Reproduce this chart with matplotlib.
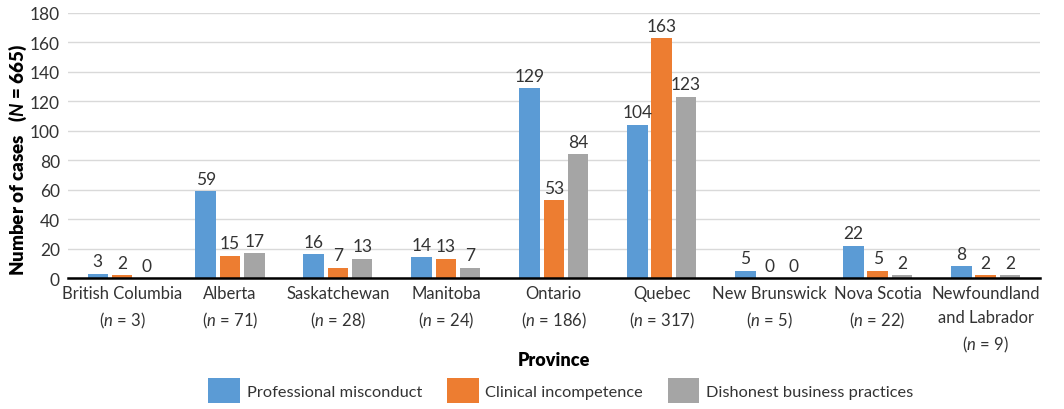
import matplotlib.pyplot as plt
import numpy as np

provinces = ["British Columbia", "Alberta", "Saskatchewan", "Manitoba", "Ontario",
             "Quebec", "New Brunswick", "Nova Scotia", "Newfoundland\nand Labrador"]
totals = [3, 71, 28, 24, 186, 317, 5, 22, 9]
misconduct = [3, 59, 16, 14, 129, 104, 5, 22, 8]
incompetence = [2, 15, 7, 13, 53, 163, 0, 5, 2]
dishonest = [0, 17, 13, 7, 84, 123, 0, 2, 2]
series_names = ["Professional misconduct", "Clinical incompetence", "Dishonest business practices"]
colors = ["#5B9BD5", "#ED7D31", "#A5A5A5"]

plt.rcParams['font.family'] = ['Lato', 'DejaVu Sans']
plt.rcParams['mathtext.fontset'] = 'custom'
plt.rcParams['mathtext.rm'] = 'Lato'
plt.rcParams['mathtext.it'] = 'Lato:italic'
plt.rcParams['mathtext.bfit'] = 'Lato:italic:bold'
txt = '#333333'

fig = plt.figure(figsize=(10.64, 4.10), dpi=100)
ax = fig.add_axes([0.064, 0.3195, 0.913, 0.6465])

x = np.arange(len(provinces))
width = 0.19
step = 0.225
for i, (vals, name, c) in enumerate(zip([misconduct, incompetence, dishonest], series_names, colors)):
    bars = ax.bar(x + (i - 1) * step, vals, width, color=c, label=name, zorder=2)
    for b, v in zip(bars, vals):
        ax.text(b.get_x() + b.get_width() / 2, v + 3, str(v), ha='center', va='bottom',
                fontsize=12.5, color=txt)

labels = [f"{p}\n($\\mathit{{n}}$ = {t})" for p, t in zip(provinces, totals)]
ax.set_xticks(x)
ax.set_xticklabels(labels, fontsize=12, color=txt, linespacing=1.6)
ax.set_xlim(-0.5, len(provinces) - 0.5)
ax.tick_params(axis='x', length=0, pad=5)

ax.set_ylim(0, 180)
ax.set_yticks(range(0, 181, 20))
ax.tick_params(axis='y', length=0, labelsize=12.5, labelcolor=txt, pad=6)
ax.grid(axis='y', color='#D9D9D9', linewidth=1, zorder=0)

for s in ['top', 'right', 'left']:
    ax.spines[s].set_visible(False)
ax.spines['bottom'].set_linewidth(1.8)
ax.spines['bottom'].set_zorder(3)

ax.set_xlabel("Province", fontsize=13, fontweight='heavy', color='black')
ax.xaxis.set_label_coords(0.5, -0.275)
ax.set_ylabel("Number of cases   ($\\mathbfit{N}$ = 665)", fontsize=13.5,
              fontweight='heavy', color='black')
ax.yaxis.set_label_coords(-0.04, 0.45)

fig.legend(loc='center', bbox_to_anchor=(0.527, 0.045), ncol=3, frameon=False,
           fontsize=11.8, handlelength=1.95, handleheight=1.95, columnspacing=1.5,
           handletextpad=0.4, labelcolor=txt)

plt.savefig('out.png', dpi=100)
